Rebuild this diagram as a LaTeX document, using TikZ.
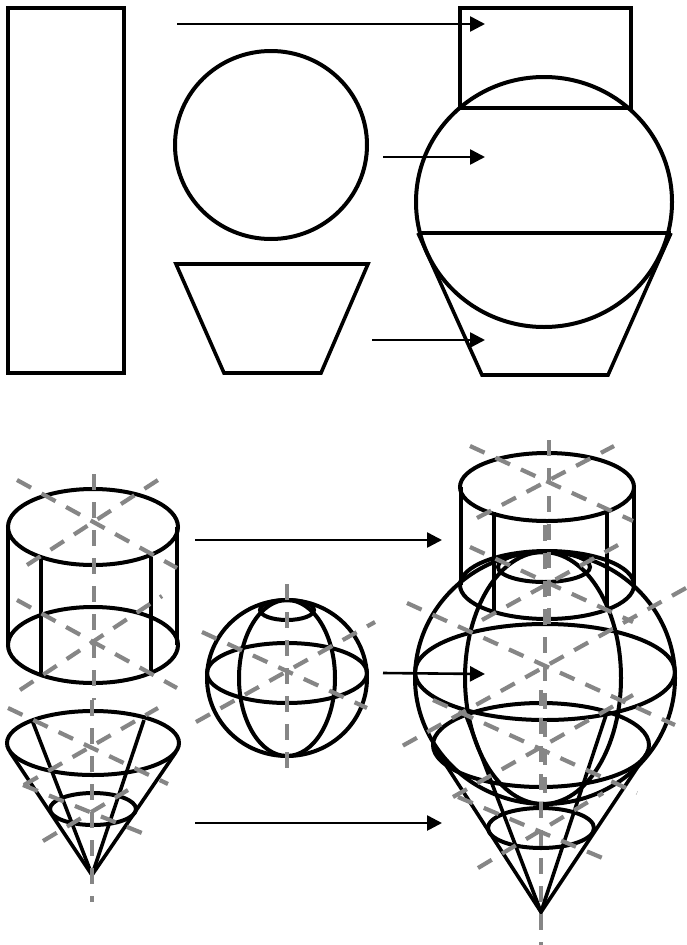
\documentclass[tikz,border=0pt]{standalone}
\usepackage{xcolor}
\usetikzlibrary{arrows.meta}
\definecolor{kaxis}{HTML}{868686}

\begin{document}
\begin{tikzpicture}[x=1pt, y=-1pt,
  outline/.style={draw=black, line width=3.6pt, line join=miter},
  round part/.style={draw=black, line width=4pt},
  axis/.style={draw=kaxis, line width=4.2pt, dash pattern=on 16pt off 12pt},
  arr/.style={-{Triangle[length=15pt, width=15pt]}, black, line width=2.6pt}]
\useasboundingbox (0,0) rectangle (686,945);
% flat outlines
\draw[outline] (8,8) rectangle (124,373);
\draw[round part] (271,145) ellipse [x radius=96, y radius=94];
\draw[outline] (176,264) -- (368,264) -- (321,373) -- (224,373) -- cycle;
\draw[outline] (460,108) -- (460,8) -- (631,8) -- (631,108) -- cycle;
\draw[round part] (544,202) ellipse [x radius=128, y radius=125];
\draw[outline] (418,233) -- (671,233);
\draw[outline] (418,233) -- (482,375) -- (608,375) -- (671,233);
% cylinder
\draw[round part] (93,527) ellipse [x radius=85, y radius=38];
\draw[round part] (93,645) ellipse [x radius=85, y radius=38];
\draw[outline] (8,527) -- (8,645);
\draw[outline] (177,527) -- (177,645);
\draw[outline] (41,557) -- (41,675);
\draw[outline] (151,555) -- (151,673);
% cone
\draw[round part] (93,743) ellipse [x radius=86, y radius=32];
\draw[round part] (93,809) ellipse [x radius=43, y radius=16];
\draw[outline] (10,752) -- (92,875) -- (176,752);
\draw[outline] (32,720) -- (92,875) -- (144,720);
% sphere
\draw[round part] (287,678) ellipse [x radius=80, y radius=78];
\draw[round part] (287,673) ellipse [x radius=80, y radius=30];
\draw[round part] (287,678) ellipse [x radius=48, y radius=78];
\draw[round part] (287,610) ellipse [x radius=27, y radius=10];
% assembled body
\draw[round part] (547,487) ellipse [x radius=87, y radius=34];
\draw[round part] (547,585) ellipse [x radius=87, y radius=34];
\draw[outline] (461,487) -- (461,585);
\draw[outline] (634,487) -- (634,585);
\draw[outline] (494,512) -- (494,612);
\draw[outline] (607,510) -- (607,610);
\draw[round part] (545,678) ellipse [x radius=130, y radius=126];
\draw[round part] (545,672) ellipse [x radius=130, y radius=48];
\draw[round part] (543,678) ellipse [x radius=78, y radius=126];
\draw[round part] (544,567) ellipse [x radius=46, y radius=15];
\draw[round part] (541,745) ellipse [x radius=108, y radius=42];
\draw[round part] (541,828) ellipse [x radius=53, y radius=20];
\draw[outline] (433,745) -- (541,912) -- (649,750);
\draw[outline] (465,713) -- (541,912) -- (607,712);
% center lines, left column
\draw[axis] (94,474) -- (94,700);
\draw[axis] (17,480) -- (177,568);
\draw[axis] (27,565) -- (158,480);
\draw[axis] (17,600) -- (177,688);
\draw[axis] (20,690) -- (162,596);
\draw[axis] (92,700) -- (92,902);
\draw[axis] (8,708) -- (168,784);
\draw[axis] (24,785) -- (158,708);
\draw[axis] (23,785) -- (147,835);
\draw[axis] (43,841) -- (128,790);
% center lines, sphere
\draw[axis] (287,584) -- (287,768);
\draw[axis] (202,632) -- (367,708);
\draw[axis] (196,722) -- (375,622);
% center lines, assembled body
\draw[axis] (549,440) -- (549,635);
\draw[axis] (470,446) -- (633,521);
\draw[axis] (477,518) -- (614,446);
\draw[axis] (470,547) -- (633,622);
\draw[axis] (482,620) -- (618,545);
\draw[axis] (545,525) -- (545,800);
\draw[axis] (407,603) -- (675,725);
\draw[axis] (686,588) -- (395,750);
\draw[axis] (541,690) -- (541,945);
\draw[axis] (433,700) -- (637,793);
\draw[axis] (453,797) -- (633,695);
\draw[axis] (458,797) -- (612,862);
\draw[axis] (478,868) -- (603,793);
% arrows
\coordinate (tops) at (177,24);
\coordinate (tope) at (485,24);
\coordinate (mids) at (383,157);
\coordinate (mide) at (485,157);
\coordinate (lows) at (372,340);
\coordinate (lowe) at (485,340);
\coordinate (cyls) at (195,540);
\coordinate (cyle) at (442,540);
\coordinate (sphs) at (383,673);
\coordinate (sphe) at (485,674);
\coordinate (cons) at (195,823);
\coordinate (cone) at (442,823);
\draw[arr] (tops) -- (tope);
\draw[arr] (mids) -- (mide);
\draw[arr] (lows) -- (lowe);
\draw[arr] (cyls) -- (cyle);
\draw[arr] (sphs) -- (sphe);
\draw[arr] (cons) -- (cone);
\end{tikzpicture}
\end{document}
